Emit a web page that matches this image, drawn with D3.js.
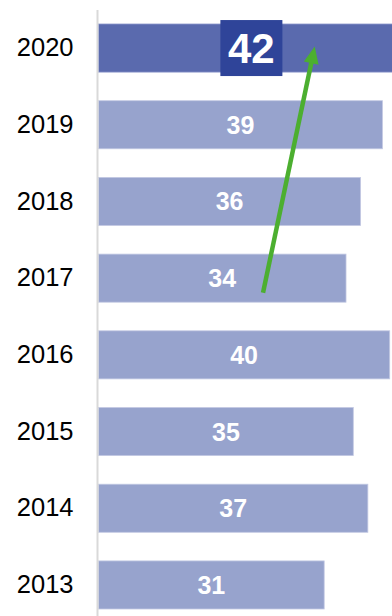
<!DOCTYPE html>
<html>
<head>
<meta charset="utf-8">
<script src="https://cdn.jsdelivr.net/npm/d3@7"></script>
<style>
  html, body { margin: 0; padding: 0; background: #fff; }
  svg { display: block; }
</style>
</head>
<body>
<svg id="chart" width="392" height="616"></svg>
<script>
const years = ["2020", "2019", "2018", "2017", "2016", "2015", "2014", "2013"];
const values = [42, 39, 36, 34, 40, 35, 37, 31];
const highlightYear = "2020";
// arrow annotation in data coordinates: [value, year, offset within band (0=center)]
const arrowFrom = [22.6, "2017", 0.19];
const arrowTo = [29.7, "2020", -0.02];

const W = 392, H = 616;
const svg = d3.select("#chart");

const x = d3.scaleLinear().domain([0, 50]).range([98.5, 98.5 + 7.28 * 50]);
const y = d3.scaleBand().domain(years).range([24, 609]).paddingInner(0.373).paddingOuter(0);

svg.append("defs").append("clipPath").attr("id", "clip")
  .append("rect").attr("x", 0).attr("y", 0).attr("width", W).attr("height", H);

const data = years.map((yr, i) => ({ year: yr, value: values[i] }));

const g = svg.append("g").attr("clip-path", "url(#clip)");

// bars
g.selectAll("rect.bar").data(data).join("rect")
  .attr("class", "bar")
  .attr("x", x(0))
  .attr("y", d => y(d.year))
  .attr("width", d => x(d.value) - x(0))
  .attr("height", y.bandwidth())
  .attr("fill", d => d.year === highlightYear ? "#5a6aae" : "#97a3cd")
  .attr("stroke", d => d.year === highlightYear ? "#8d98cc" : "#c3c9e3")
  .attr("stroke-width", 0.8);

// y axis
const yAxis = d3.axisLeft(y).tickSize(0).tickPadding(24);
const ax = svg.append("g").attr("transform", `translate(97.5,0)`).call(yAxis);
ax.select(".domain").remove();
ax.selectAll("text")
  .attr("font-family", "Liberation Sans, Arial, sans-serif")
  .attr("font-size", 25.5)
  .attr("fill", "#000");
svg.append("line")
  .attr("x1", 97.5).attr("x2", 97.5)
  .attr("y1", 10).attr("y2", H)
  .attr("stroke", "#d9d9d9").attr("stroke-width", 2);

// highlight box for 2020
const hd = data.find(d => d.year === highlightYear);
const hx = (x(0) + x(hd.value)) / 2;
const hy = y(hd.year) + y.bandwidth() / 2;
svg.append("rect")
  .attr("x", hx - 31).attr("y", hy - 28)
  .attr("width", 62).attr("height", 56)
  .attr("fill", "#2f4499");

// value labels
svg.selectAll("text.val").data(data).join("text")
  .attr("class", "val")
  .attr("x", d => (x(0) + x(d.value)) / 2)
  .attr("y", d => y(d.year) + y.bandwidth() / 2)
  .attr("dy", "0.36em")
  .attr("text-anchor", "middle")
  .attr("font-family", "Liberation Sans, Arial, sans-serif")
  .attr("font-weight", "bold")
  .attr("font-size", d => d.year === highlightYear ? 42 : 25)
  .attr("fill", "#fff")
  .text(d => d.value);

// arrow
const ax1 = x(arrowFrom[0]), ay1 = y(arrowFrom[1]) + y.bandwidth() / 2 + arrowFrom[2] * y.step();
const ax2 = x(arrowTo[0]), ay2 = y(arrowTo[1]) + y.bandwidth() / 2 + arrowTo[2] * y.step();
const green = "#4caf30";
const ang = Math.atan2(ay2 - ay1, ax2 - ax1);
const headLen = 17, headHalf = 7.5;
const bx = ax2 - headLen * Math.cos(ang), by = ay2 - headLen * Math.sin(ang);
svg.append("line")
  .attr("x1", ax1).attr("y1", ay1)
  .attr("x2", bx + 2 * Math.cos(ang)).attr("y2", by + 2 * Math.sin(ang))
  .attr("stroke", green).attr("stroke-width", 4.5);
const px = -Math.sin(ang), py = Math.cos(ang);
svg.append("path")
  .attr("d", d3.line()([
    [ax2, ay2],
    [bx + px * headHalf, by + py * headHalf],
    [bx - px * headHalf, by - py * headHalf]
  ]) + "Z")
  .attr("fill", green);
</script>
</body>
</html>
